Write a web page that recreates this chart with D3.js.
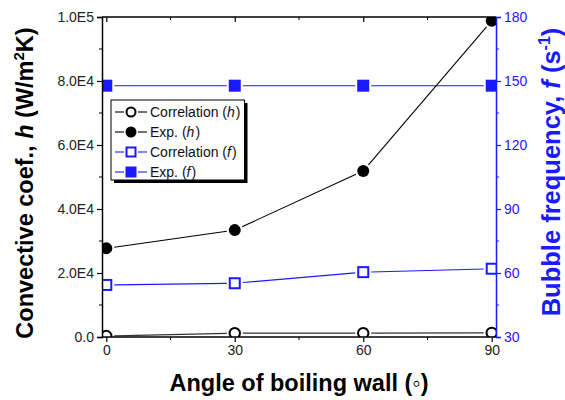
<!DOCTYPE html>
<html>
<head>
<meta charset="utf-8">
<script src="https://cdn.jsdelivr.net/npm/d3@7"></script>
<style>
  body { margin: 0; background: #fff; }
  svg { font-family: Arial, 'Liberation Sans', sans-serif; }
</style>
</head>
<body>
<div id="chart"></div>
<script>
// data
const angles = [0, 30, 60, 90]
const hCorr = [300, 1200, 1200, 1300]
const hExp = [27700, 33400, 51900, 98800]
const fCorr = [54.4, 55.2, 60.4, 62]
const fExp = [147.8, 147.8, 147.8, 147.8]
const xTicks = [0, 30, 60, 90]
const hTicks = [0, 2e4, 4e4, 6e4, 8e4, 1e5]
const hTickLabels = ['0.0', '2.0E4', '4.0E4', '6.0E4', '8.0E4', '1.0E5']
const fTicks = [30, 60, 90, 120, 150, 180]

const W = 565, H = 400
const blue = '#1a1aff'
const plot = { left: 102, right: 496, top: 17, bottom: 337 }

const svg = d3.select('#chart').append('svg')
  .attr('width', W)
  .attr('height', H)

const x = d3.scaleLinear().domain([-1, 91]).range([plot.left, plot.right])
const yh = d3.scaleLinear().domain([0, 1e5]).range([plot.bottom, plot.top])
const yf = d3.scaleLinear().domain([30, 180]).range([plot.bottom, plot.top])

svg.append('clipPath').attr('id', 'clip')
  .append('rect')
  .attr('x', plot.left).attr('y', plot.top)
  .attr('width', plot.right - plot.left)
  .attr('height', plot.bottom - plot.top)

const gData = svg.append('g').attr('clip-path', 'url(#clip)')

// Origin style: line segments stop short of the symbols
function gappedLine(vals, yScale, colour, gap) {
  const pts = angles.map((a, i) => [x(a), yScale(vals[i])])
  for (let i = 0; i < pts.length - 1; i++) {
    const [x1, y1] = pts[i]
    const [x2, y2] = pts[i + 1]
    const len = Math.hypot(x2 - x1, y2 - y1)
    if (len <= 2 * gap) continue
    const ux = (x2 - x1) / len, uy = (y2 - y1) / len
    gData.append('line')
      .attr('x1', x1 + ux * gap).attr('y1', y1 + uy * gap)
      .attr('x2', x2 - ux * gap).attr('y2', y2 - uy * gap)
      .attr('stroke', colour)
      .attr('stroke-width', 1.1)
  }
}

function circles(vals, filled) {
  gData.selectAll(null).data(vals).join('circle')
    .attr('cx', (d, i) => x(angles[i]))
    .attr('cy', d => yh(d))
    .attr('r', filled ? 6 : 5.2)
    .attr('fill', filled ? '#000' : '#fff')
    .attr('stroke', '#000')
    .attr('stroke-width', filled ? 0 : 2)
}

function squares(vals, filled) {
  const s = filled ? 12 : 10
  gData.selectAll(null).data(vals).join('rect')
    .attr('x', (d, i) => x(angles[i]) - s / 2)
    .attr('y', d => yf(d) - s / 2)
    .attr('width', s)
    .attr('height', s)
    .attr('fill', filled ? blue : '#fff')
    .attr('stroke', blue)
    .attr('stroke-width', filled ? 0 : 2)
}

gappedLine(fExp, yf, blue, 8)
gappedLine(fCorr, yf, blue, 8)
gappedLine(hCorr, yh, '#333', 8)
gappedLine(hExp, yh, '#000', 8)
squares(fExp, true)
squares(fCorr, false)
circles(hCorr, false)
circles(hExp, true)

// axes
const minorX = [15, 45, 75]
const gx = svg.append('g').attr('transform', `translate(0,${plot.bottom})`)
gx.call(d3.axisBottom(x).tickValues(xTicks).tickSize(5).tickPadding(3))
gx.append('g').selectAll('line').data(minorX).join('line')
  .attr('x1', d => x(d)).attr('x2', d => x(d))
  .attr('y1', 0).attr('y2', 3).attr('stroke', '#000')

const gTop = svg.append('g').attr('transform', `translate(0,${plot.top})`)
gTop.call(d3.axisTop(x).tickValues(xTicks).tickSize(-5).tickFormat(''))
gTop.append('g').selectAll('line').data(minorX).join('line')
  .attr('x1', d => x(d)).attr('x2', d => x(d))
  .attr('y1', 0).attr('y2', 3).attr('stroke', '#000')

const gl = svg.append('g').attr('transform', `translate(${plot.left},0)`)
gl.call(d3.axisLeft(yh).tickValues(hTicks).tickSize(5).tickPadding(3)
  .tickFormat((d, i) => hTickLabels[i]))
gl.append('g').selectAll('line').data([1e4, 3e4, 5e4, 7e4, 9e4]).join('line')
  .attr('x1', 0).attr('x2', -3)
  .attr('y1', d => yh(d)).attr('y2', d => yh(d)).attr('stroke', '#000')

const gr = svg.append('g').attr('transform', `translate(${plot.right},0)`)
gr.call(d3.axisRight(yf).tickValues(fTicks).tickSize(5).tickPadding(3))
gr.append('g').selectAll('line').data([45, 75, 105, 135, 165]).join('line')
  .attr('x1', 0).attr('x2', 3)
  .attr('y1', d => yf(d)).attr('y2', d => yf(d)).attr('stroke', blue)

svg.selectAll('.domain').attr('stroke-width', 1.5)
svg.selectAll('.tick line').attr('stroke-width', 1.2)
svg.selectAll('.tick text').attr('font-size', 14).attr('font-family', 'Arial, Liberation Sans')
gx.select('.domain').attr('d', `M${plot.left},0H${plot.right}`)
gTop.select('.domain').attr('d', `M${plot.left},0H${plot.right}`)
gr.select('.domain').attr('stroke', blue)
gr.selectAll('.tick line').attr('stroke', blue)
gr.selectAll('.tick text').attr('fill', blue)
gl.selectAll('.tick text').attr('fill', '#222')
gx.selectAll('.tick text').attr('fill', '#222')

// axis titles
const titleSize = 23.5
svg.append('text')
  .attr('x', 299)
  .attr('y', 391)
  .attr('text-anchor', 'middle')
  .attr('font-size', titleSize)
  .attr('font-weight', 'bold')
  .text('Angle of boiling wall (◦)')

const tl = svg.append('text')
  .attr('transform', `translate(33,183) rotate(-90)`)
  .attr('text-anchor', 'middle')
  .attr('font-size', titleSize)
  .attr('font-weight', 'bold')
tl.append('tspan').text('Convective coef., ')
tl.append('tspan').attr('font-style', 'italic').text('h')
tl.append('tspan').text(' (W/m')
tl.append('tspan').attr('font-size', 15).attr('dy', -9).text('2')
tl.append('tspan').attr('dy', 9).text('K)')

const tr = svg.append('text')
  .attr('transform', `translate(560,172) rotate(-90)`)
  .attr('text-anchor', 'middle')
  .attr('font-size', 25.5)
  .attr('font-weight', 'bold')
  .attr('fill', blue)
tr.append('tspan').text('Bubble frequency, ')
tr.append('tspan').attr('font-style', 'italic').text('f')
tr.append('tspan').text(' (s')
tr.append('tspan').attr('font-size', 16).attr('dy', -10).text('-1')
tr.append('tspan').attr('dy', 10).text(')')

// legend
const legendItems = [
  { label: 'Correlation (', it: 'h', kind: 'circle', filled: false, colour: '#000' },
  { label: 'Exp. (', it: 'h', kind: 'circle', filled: true, colour: '#000' },
  { label: 'Correlation (', it: 'f', kind: 'square', filled: false, colour: blue },
  { label: 'Exp. (', it: 'f', kind: 'square', filled: true, colour: blue }
]
const lg = svg.append('g').attr('transform', 'translate(111,100)')
const shadow = lg.append('rect').attr('x', 3).attr('y', 3).attr('height', 80).attr('fill', '#000')
const box = lg.append('rect').attr('height', 80).attr('fill', '#fff').attr('stroke', '#000').attr('stroke-width', 1)

let maxRight = 0
legendItems.forEach((d, i) => {
  const cy = 12 + i * 20
  const g = lg.append('g').attr('transform', `translate(0,${cy})`)
  g.append('line').attr('x1', 4).attr('x2', 13).attr('y1', 0).attr('y2', 0).attr('stroke', d.colour).attr('stroke-width', 1.1)
  g.append('line').attr('x1', 27).attr('x2', 36).attr('y1', 0).attr('y2', 0).attr('stroke', d.colour).attr('stroke-width', 1.1)
  if (d.kind === 'circle') {
    g.append('circle').attr('cx', 20).attr('cy', 0).attr('r', d.filled ? 5.5 : 4.5)
      .attr('fill', d.filled ? '#000' : '#fff').attr('stroke', '#000').attr('stroke-width', d.filled ? 0 : 2)
  } else {
    const s = d.filled ? 11 : 9
    g.append('rect').attr('x', 20 - s / 2).attr('y', -s / 2).attr('width', s).attr('height', s)
      .attr('fill', d.filled ? blue : '#fff').attr('stroke', blue).attr('stroke-width', d.filled ? 0 : 2)
  }
  // place pieces one after another, measured, so the italic letter sits right
  let tx = 39
  const pieces = [[d.label, 'normal'], [d.it, 'italic'], [')', 'normal']]
  pieces.forEach(([s, style]) => {
    const t = g.append('text').attr('x', tx).attr('y', 5).attr('font-size', 14)
      .attr('fill', '#111').attr('font-style', style).text(s)
    tx += t.node().getComputedTextLength() + (style === 'italic' ? 1 : 0)
  })
  maxRight = Math.max(maxRight, tx)
})
box.attr('width', maxRight + 4)
shadow.attr('width', maxRight + 4)
</script>
</body>
</html>
